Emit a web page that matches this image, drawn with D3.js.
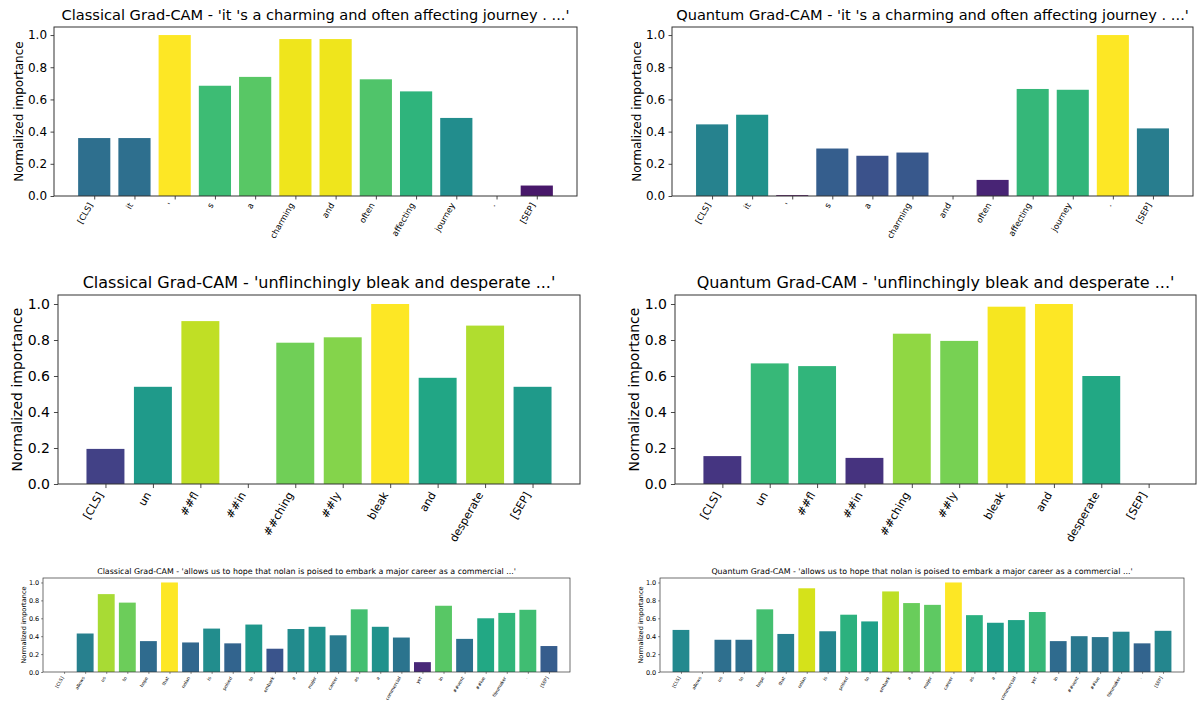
<!DOCTYPE html>
<html>
<head>
<meta charset="utf-8">
<script src="https://cdn.jsdelivr.net/npm/d3@7"></script>
<style>
  html, body { margin: 0; padding: 0; background: #fff; }
  svg { display: block; }
  text { font-family: "DejaVu Sans", sans-serif; fill: #000; }
</style>
</head>
<body>
<svg id="fig" width="1198" height="705"></svg>
<script>
// Token labels for the three example sentences
const tokensCharming = ["[CLS]", "it", "'", "s", "a", "charming", "and", "often", "affecting", "journey", ".", "[SEP]"];
const tokensBleak = ["[CLS]", "un", "##fl", "##in", "##ching", "##ly", "bleak", "and", "desperate", "[SEP]"];
const tokensNolan = ["[CLS]", "allows", "us", "to", "hope", "that", "nolan", "is", "poised", "to", "embark", "a",
  "major", "career", "as", "a", "commercial", "yet", "in", "##vent", "##ive", "filmmaker", ".", "[SEP]"];

// Normalized Grad-CAM importance per token
const classicalCharming = [0.36, 0.36, 1.0, 0.685, 0.74, 0.975, 0.975, 0.725, 0.65, 0.485, 0.0, 0.065];
const quantumCharming = [0.445, 0.505, 0.005, 0.295, 0.25, 0.27, 0.0, 0.10, 0.665, 0.66, 1.0, 0.42];
const classicalBleak = [0.195, 0.54, 0.905, 0.0, 0.785, 0.815, 1.0, 0.59, 0.88, 0.54];
const quantumBleak = [0.155, 0.67, 0.655, 0.145, 0.835, 0.795, 0.985, 1.0, 0.60, 0.0];
const classicalNolan = [0.0, 0.43, 0.87, 0.775, 0.345, 1.0, 0.33, 0.485, 0.32, 0.53, 0.26, 0.48,
  0.505, 0.41, 0.70, 0.505, 0.385, 0.11, 0.74, 0.37, 0.60, 0.66, 0.695, 0.29];
const quantumNolan = [0.47, 0.0, 0.36, 0.36, 0.70, 0.425, 0.935, 0.455, 0.64, 0.565, 0.90, 0.77,
  0.75, 1.0, 0.635, 0.55, 0.58, 0.67, 0.345, 0.40, 0.39, 0.45, 0.32, 0.46];

const yTicks = [0.0, 0.2, 0.4, 0.6, 0.8, 1.0];

const titleCharming = "'it 's a charming and often affecting journey . ...'";
const titleBleak = "'unflinchingly bleak and desperate ...'";
const titleNolan = "'allows us to hope that nolan is poised to embark a major career as a commercial ...'";

// Panel geometry and text sizes
const panels = [
  { title: "Classical Grad-CAM - " + titleCharming, tokens: tokensCharming, values: classicalCharming,
    box: [54, 27, 577, 196], titleSize: 14.6, tickSize: 12, labelSize: 12, xSize: 8.4 },
  { title: "Quantum Grad-CAM - " + titleCharming, tokens: tokensCharming, values: quantumCharming,
    box: [672, 27, 1193, 196], titleSize: 14.6, tickSize: 12, labelSize: 12, xSize: 8.4 },
  { title: "Classical Grad-CAM - " + titleBleak, tokens: tokensBleak, values: classicalBleak,
    box: [58, 295, 580, 484], titleSize: 16, tickSize: 14, labelSize: 14, xSize: 11 },
  { title: "Quantum Grad-CAM - " + titleBleak, tokens: tokensBleak, values: quantumBleak,
    box: [675, 295, 1196, 484], titleSize: 16, tickSize: 14, labelSize: 14, xSize: 11 },
  { title: "Classical Grad-CAM - " + titleNolan, tokens: tokensNolan, values: classicalNolan,
    box: [43, 578, 570, 672], titleSize: 7.9, tickSize: 6.5, labelSize: 6.6, xSize: 4.5 },
  { title: "Quantum Grad-CAM - " + titleNolan, tokens: tokensNolan, values: quantumNolan,
    box: [660, 578, 1184, 672], titleSize: 7.9, tickSize: 6.5, labelSize: 6.6, xSize: 4.5 }
];

const svg = d3.select("#fig");

panels.forEach(p => {
  const [x0, y0, x1, y1] = p.box;
  const n = p.tokens.length;
  const x = d3.scaleLinear().domain([-1, n]).range([x0, x1]);
  const y = d3.scaleLinear().domain([0, 1.05]).range([y1, y0]);
  const g = svg.append("g");
  const tickLen = p.tickSize * 0.29;

  // bars coloured by their own value on the viridis map
  g.selectAll("rect.bar").data(p.values).enter().append("rect")
    .attr("class", "bar")
    .attr("x", (d, i) => x(i - 0.4))
    .attr("width", (d, i) => x(i + 0.4) - x(i - 0.4))
    .attr("y", d => y(d))
    .attr("height", d => y(0) - y(d))
    .attr("fill", d => d3.interpolateViridis(d));

  // y axis
  const yAxis = d3.axisLeft(y).tickValues(yTicks).tickFormat(d3.format(".1f"))
    .tickSize(tickLen).tickPadding(p.tickSize * 0.29);
  const ya = g.append("g").attr("transform", `translate(${x0},0)`).call(yAxis);
  ya.select(".domain").remove();
  ya.selectAll("line").attr("stroke", "#333").attr("stroke-width", p.tickSize > 8 ? 0.9 : 0.6);
  ya.selectAll("text").style("font-size", p.tickSize + "px").attr("fill", "#000")
    .style("font-family", "DejaVu Sans");

  // x axis with rotated token labels
  const xAxis = d3.axisBottom(x).tickValues(d3.range(n)).tickFormat(i => p.tokens[i])
    .tickSize(tickLen);
  const xa = g.append("g").attr("transform", `translate(0,${y1})`).call(xAxis);
  xa.select(".domain").remove();
  xa.selectAll("line").attr("stroke", "#333").attr("stroke-width", p.tickSize > 8 ? 0.9 : 0.6);
  const fs = p.xSize;
  xa.selectAll("text")
    .style("font-size", fs + "px").style("font-family", "DejaVu Sans")
    .attr("fill", "#000")
    .attr("text-anchor", "end")
    .attr("dy", null)
    .attr("y", null)
    .attr("transform", `translate(${-0.18 * fs},${tickLen + 2 + 0.42 * fs}) rotate(-60)`);

  // frame
  g.append("rect")
    .attr("x", x0).attr("y", y0).attr("width", x1 - x0).attr("height", y1 - y0)
    .attr("fill", "none").attr("stroke", "#333").attr("stroke-width", p.tickSize > 8 ? 1 : 0.7);

  // y label
  g.append("text")
    .attr("transform", `translate(${x0 - p.tickSize * 2.6},${(y0 + y1) / 2}) rotate(-90)`)
    .attr("text-anchor", "middle")
    .style("font-size", p.labelSize + "px")
    .text("Normalized importance");

  // title
  g.append("text")
    .attr("x", (x0 + x1) / 2).attr("y", y0 - p.titleSize * 0.45)
    .attr("text-anchor", "middle")
    .style("font-size", p.titleSize + "px")
    .text(p.title);
});
</script>
</body>
</html>
